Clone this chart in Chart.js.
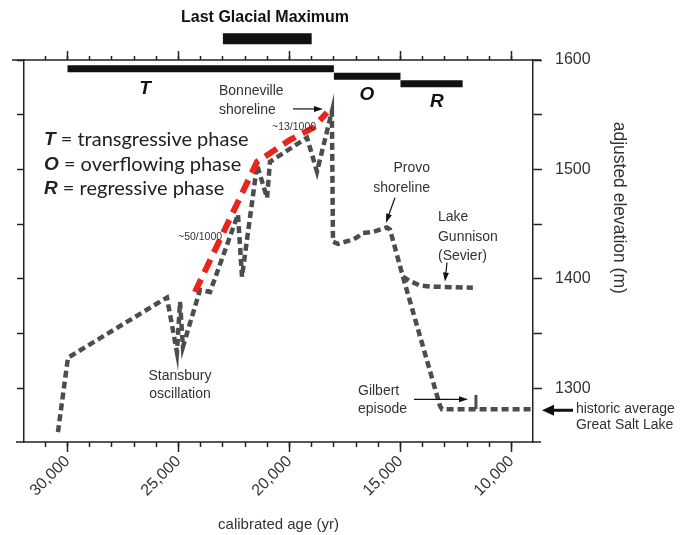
<!DOCTYPE html>
<html>
<head>
<meta charset="utf-8">
<script src="https://cdn.jsdelivr.net/npm/chart.js@4.4.1/dist/chart.umd.min.js"></script>
<style>
  html, body { margin: 0; padding: 0; background: #fff; }
  #wrap { width: 682px; height: 535px; }
</style>
</head>
<body>
<div id="wrap"><canvas id="chart"></canvas></div>
<script>
// Lake Bonneville hydrograph: calibrated age (yr BP) vs adjusted elevation (m)
const ageMain  = [30430, 29980, 25520, 25070, 24930, 24800, 24030, 23580, 22320, 22140, 21460, 21010, 20880, 19210, 18760, 18090, 18040, 17820, 17140, 16960, 16690, 16240, 15610, 15470, 14890, 13220, 13130, 9030];
const elevMain = [1260, 1328, 1383, 1333, 1379, 1338, 1390, 1388, 1459, 1402, 1504, 1474, 1507, 1529, 1498, 1553, 1434, 1432, 1436, 1438, 1442, 1443, 1447, 1445, 1402, 1284, 1281, 1281];

// Lake Gunnison (Sevier) branch
const ageGunnison  = [14890, 14570, 14120, 13670, 11740];
const elevGunnison = [1402, 1398, 1394, 1393, 1392];

// Gilbert episode
const ageGilbert  = [11600, 11600];
const elevGilbert = [1281, 1294];

// transgression rate trend (~50/1000 then ~13/1000)
const ageTrend  = [24260, 21460, 19980, 18940, 18310];
const elevTrend = [1388, 1507, 1527, 1538, 1552];

// lake phases and Last Glacial Maximum (age ranges)
const phaseNames = ['T', 'O', 'R'];
const phaseStart = [30000, 18000, 15000];
const phaseEnd   = [18000, 15000, 12200];
const lgmRange   = [23000, 19000];

const xMin = 9030, xMax = 31960;
const yMin = 1251, yMax = 1600;
const xTickValues = [30000, 25000, 20000, 15000, 10000];
const yTickValues = [1300, 1400, 1500, 1600];

const toXY = (xs, ys) => xs.map((x, i) => ({ x, y: ys[i] }));

// vertical placement of the bars (layout only)
const phaseLevel = [1592, 1585.2, 1578.3];
const lgmLevel = 1619.5;

const GREY = '#4d4d4d';
const INK = '#333';
const SANS = '"Liberation Sans", Arial, sans-serif';

const greyLine = {
  borderColor: GREY, borderWidth: 4.5, borderDash: [7, 4],
  pointRadius: 0, showLine: true, tension: 0, fill: false
};

const datasets = [
  { data: toXY(ageTrend, elevTrend), borderColor: '#e8241c', borderWidth: 6,
    borderDash: [14, 8], pointRadius: 0, showLine: true, fill: false },
  { data: toXY(ageMain, elevMain), ...greyLine },
  { data: toXY(ageGunnison, elevGunnison), ...greyLine },
  { data: toXY(ageGilbert, elevGilbert), ...greyLine, borderDash: [], borderWidth: 3 }
];
phaseNames.forEach((n, i) => {
  datasets.push({
    data: [{ x: phaseStart[i], y: phaseLevel[i] }, { x: phaseEnd[i], y: phaseLevel[i] }],
    borderColor: '#111', borderWidth: 7, borderCapStyle: 'butt',
    pointRadius: 0, showLine: true, clip: false
  });
});
datasets.push({
  data: [{ x: lgmRange[0], y: lgmLevel }, { x: lgmRange[1], y: lgmLevel }],
  borderColor: '#111', borderWidth: 11, borderCapStyle: 'butt',
  pointRadius: 0, showLine: true, clip: false
});

// text annotations, anchored in data coordinates [age, elevation]
const notes = [
  { t: 'Last Glacial Maximum', at: [21100, 1639], align: 'center', font: 'bold 16px ' + SANS, color: '#111' },
  { t: 'T', at: [26509, 1574], align: 'center', font: 'italic bold 19px ' + SANS, color: '#111' },
  { t: 'O', at: [16509, 1568], align: 'center', font: 'italic bold 19px ' + SANS, color: '#111' },
  { t: 'R', at: [13356, 1562], align: 'center', font: 'italic bold 19px ' + SANS, color: '#111' },
  { t: 'Bonneville', at: [23176, 1571.5], align: 'left' },
  { t: 'shoreline', at: [23176, 1554.4], align: 'left' },
  { t: '~13/1000', at: [20788, 1538.9], align: 'left', font: '10.5px ' + SANS },
  { t: '~50/1000', at: [25022, 1438.6], align: 'left', font: '10.5px ' + SANS },
  { t: 'Stansbury', at: [24932, 1311], align: 'center' },
  { t: 'oscillation', at: [24932, 1294.5], align: 'center' },
  { t: 'Provo', at: [13671, 1501.5], align: 'right' },
  { t: 'shoreline', at: [13671, 1483.3], align: 'right' },
  { t: 'Lake', at: [13311, 1456.8], align: 'left' },
  { t: 'Gunnison', at: [13311, 1438.6], align: 'left' },
  { t: '(Sevier)', at: [13311, 1420.4], align: 'left' },
  { t: 'Gilbert', at: [16914, 1297.3], align: 'left' },
  { t: 'episode', at: [16914, 1280.9], align: 'left' },
  { t: 'historic average', at: [7094, 1280.9], align: 'left' },
  { t: 'Great Salt Lake', at: [7094, 1266.3], align: 'left' }
];

const legendRows = [
  ['T', ' = transgressive phase', 1527],
  ['O', ' = overflowing phase', 1504.3],
  ['R', ' = regressive phase', 1482.4]
];
const legendAge = 31059;

// arrows [fromAge, fromElev, toAge, toElev, heavy]
const arrows = [
  [19842, 1555.3, 18491, 1555.3, false],
  [15248, 1474.2, 15653, 1451.4, false],
  [12905, 1415, 12995, 1397.6, false],
  [14392, 1290, 11959, 1290, false],
  [7229, 1280, 8625, 1280, true]
];

function drawArrow(ctx, x1, y1, x2, y2, heavy) {
  const ang = Math.atan2(y2 - y1, x2 - x1);
  const hl = heavy ? 12 : 9, hw = heavy ? 5.5 : 3;
  ctx.save();
  ctx.strokeStyle = '#111';
  ctx.fillStyle = '#111';
  ctx.lineWidth = heavy ? 3 : 1.2;
  ctx.beginPath();
  ctx.moveTo(x1, y1);
  ctx.lineTo(x2 - Math.cos(ang) * (hl - 2), y2 - Math.sin(ang) * (hl - 2));
  ctx.stroke();
  ctx.translate(x2, y2);
  ctx.rotate(ang);
  ctx.beginPath();
  ctx.moveTo(0, 0);
  ctx.lineTo(-hl, -hw);
  ctx.lineTo(-hl, hw);
  ctx.closePath();
  ctx.fill();
  ctx.restore();
}

const annotate = {
  id: 'annotate',
  afterDraw(chart) {
    const { ctx, chartArea: a } = chart;
    const sx = chart.scales.x, sy = chart.scales.y;
    const px = v => sx.getPixelForValue(v), py = v => sy.getPixelForValue(v);

    // axis lines run a little past the corners
    ctx.save();
    ctx.strokeStyle = '#222';
    ctx.lineWidth = 1.5;
    ctx.beginPath();
    ctx.moveTo(a.left - 12, a.top); ctx.lineTo(a.right + 8, a.top);
    ctx.moveTo(a.left - 8, a.bottom); ctx.lineTo(a.right + 8, a.bottom);
    ctx.stroke();
    ctx.restore();

    ctx.save();
    ctx.textBaseline = 'middle';
    notes.forEach(n => {
      ctx.font = n.font || '14px ' + SANS;
      ctx.fillStyle = n.color || INK;
      ctx.textAlign = n.align;
      ctx.fillText(n.t, px(n.at[0]), py(n.at[1]));
    });

    ctx.textAlign = 'left';
    legendRows.forEach(([k, rest, elev]) => {
      const x = px(legendAge), y = py(elev);
      ctx.fillStyle = '#222';
      ctx.font = 'italic bold 19px ' + SANS;
      ctx.fillText(k, x, y);
      const w = ctx.measureText(k).width;
      ctx.font = '20px Lato, sans-serif';
      ctx.fillText(rest, x + w, y);
    });

    // right axis title, rotated to read downward
    ctx.translate(a.right + 86, py(1465));
    ctx.rotate(Math.PI / 2);
    ctx.textAlign = 'center';
    ctx.fillStyle = INK;
    ctx.font = '17.5px ' + SANS;
    ctx.fillText('adjusted elevation (m)', 0, 0);
    ctx.restore();

    arrows.forEach(([a1, e1, a2, e2, heavy]) => {
      drawArrow(ctx, px(a1), py(e1), px(a2), py(e2), heavy);
    });
  }
};

const tickFont = { family: SANS, size: 16 };
const axisInk = '#222';

// ticks on whole multiples of the step inside the axis range
function stepTicks(step) {
  return s => {
    const out = [];
    for (let v = Math.ceil(s.min / step) * step; v <= s.max; v += step) out.push({ value: v });
    s.ticks = out;
  };
}

function xAxis(pos, step, len, weight, labels) {
  return {
    type: 'linear', position: pos, reverse: true, min: xMin, max: xMax, weight,
    afterBuildTicks: stepTicks(step),
    ticks: {
      display: labels, autoSkip: false,
      maxRotation: 45, minRotation: 45, padding: 0, color: INK, font: tickFont,
      callback: v => xTickValues.includes(v) ? v.toLocaleString('en-US') : ''
    },
    grid: { drawOnChartArea: false, tickLength: len, tickColor: axisInk, tickWidth: 1.5 },
    border: { display: false },
    title: labels ? { display: true, text: 'calibrated age (yr)', color: INK,
      font: { family: SANS, size: 15 }, padding: { top: 0, bottom: 1 } } : { display: false },
    afterFit: s => { s.height = labels ? 93 : 0; }
  };
}

function yAxis(pos, labels) {
  return {
    type: 'linear', position: pos, min: yMin, max: yMax,
    afterBuildTicks: stepTicks(50),
    ticks: {
      display: labels, autoSkip: false,
      padding: 13, color: INK, font: tickFont,
      callback: v => yTickValues.includes(v) ? String(v) : ''
    },
    grid: { drawOnChartArea: false, tickLength: labels ? 9 : 7, tickColor: axisInk, tickWidth: 1.5 },
    border: { display: true, color: axisInk, width: 1.5 },
    afterFit: s => { s.width = labels ? 149 : 0; }
  };
}

new Chart(document.getElementById('chart'), {
  type: 'scatter',
  data: { datasets },
  options: {
    responsive: true,
    maintainAspectRatio: false,
    animation: false,
    layout: { padding: { left: 24, top: 60, right: 0, bottom: 0 } },
    plugins: { legend: { display: false }, tooltip: { enabled: false } },
    scales: {
      xMinor: xAxis('bottom', 1000, 5, 0, false),
      x: xAxis('bottom', 5000, 10, 1, true),
      xTopMinor: xAxis('top', 1000, 4, 0, false),
      xTop: xAxis('top', 5000, 9, 1, false),
      yLeft: yAxis('left', false),
      y: yAxis('right', true)
    }
  },
  plugins: [annotate]
});
</script>
</body>
</html>
